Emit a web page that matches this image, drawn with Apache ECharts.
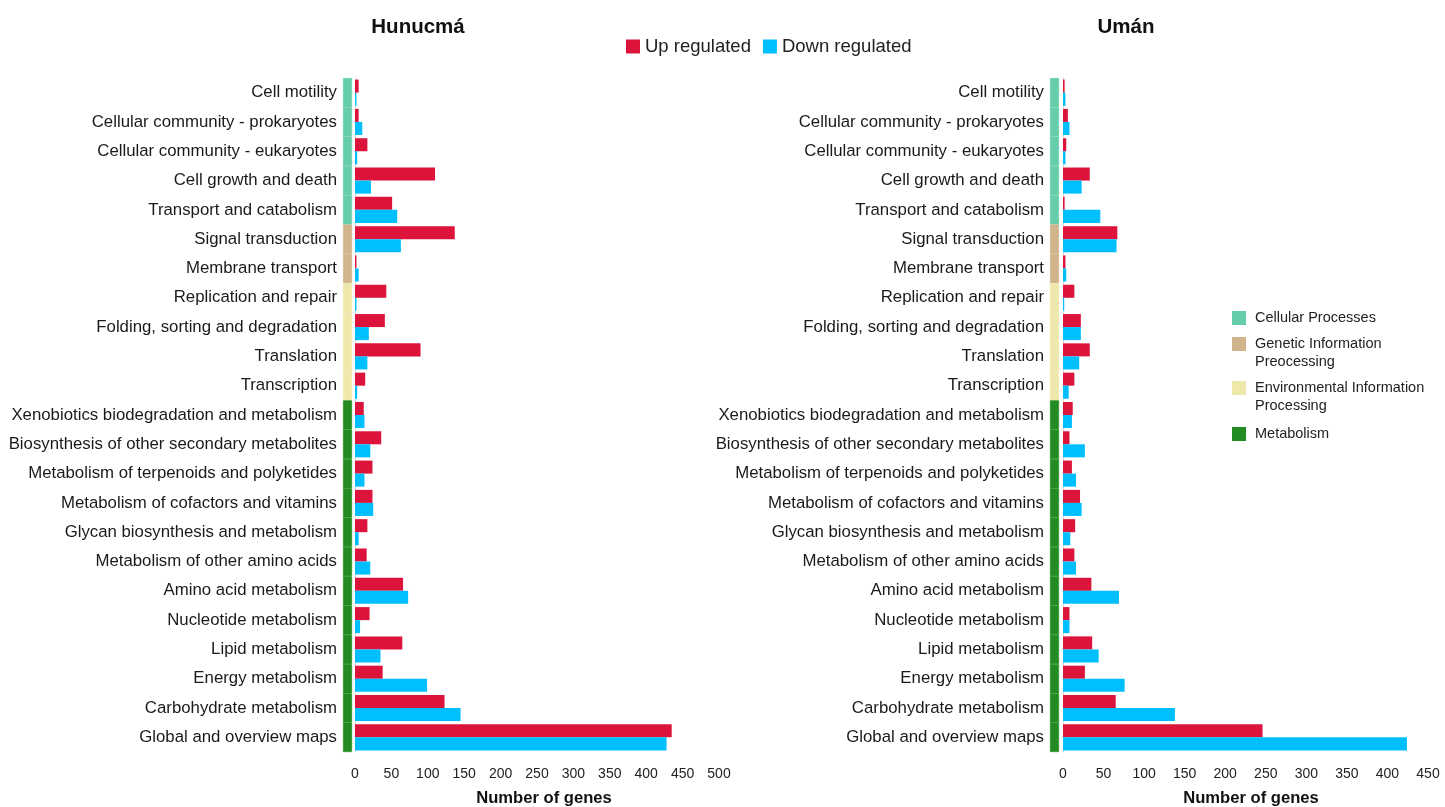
<!DOCTYPE html>
<html>
<head>
<meta charset="utf-8">
<script src="https://cdn.jsdelivr.net/npm/echarts@6/dist/echarts.min.js"></script>
<style>
  html, body { margin: 0; padding: 0; background: #ffffff; }
  #chart { width: 1445px; height: 807px; }
</style>
</head>
<body>
<div id="chart"></div>
<script>
// KEGG pathway categories (top to bottom)
const categories = [
  'Cell motility',
  'Cellular community - prokaryotes',
  'Cellular community - eukaryotes',
  'Cell growth and death',
  'Transport and catabolism',
  'Signal transduction',
  'Membrane transport',
  'Replication and repair',
  'Folding, sorting and degradation',
  'Translation',
  'Transcription',
  'Xenobiotics biodegradation and metabolism',
  'Biosynthesis of other secondary metabolites',
  'Metabolism of terpenoids and polyketides',
  'Metabolism of cofactors and vitamins',
  'Glycan biosynthesis and metabolism',
  'Metabolism of other amino acids',
  'Amino acid metabolism',
  'Nucleotide metabolism',
  'Lipid metabolism',
  'Energy metabolism',
  'Carbohydrate metabolism',
  'Global and overview maps'
];

// Group index of each category (into groupNames / groupColors)
const categoryGroup = [0, 0, 0, 0, 0, 1, 1, 2, 2, 2, 2, 3, 3, 3, 3, 3, 3, 3, 3, 3, 3, 3, 3];
const groupNames = ['Cellular Processes', 'Genetic Information\nPreocessing', 'Environmental Information\nProcessing', 'Metabolism'];
const groupColors = ['#66CDAA', '#D2B48C', '#EEE8AA', '#228B22'];

// Number of genes per category
const hunucmaUp   = [5, 5, 17, 110, 51, 137, 2, 43, 41, 90, 14, 12, 36, 24, 24, 17, 16, 66, 20, 65, 38, 123, 435];
const hunucmaDown = [2, 10, 3, 22, 58, 63, 5, 2, 19, 17, 3, 13, 21, 13, 25, 5, 21, 73, 7, 35, 99, 145, 428];
const umanUp      = [2, 6, 4, 33, 2, 67, 3, 14, 22, 33, 14, 12, 8, 11, 21, 15, 14, 35, 8, 36, 27, 65, 246];
const umanDown    = [3, 8, 3, 23, 46, 66, 4, 1.5, 22, 20, 7, 11, 27, 16, 23, 9, 16, 69, 8, 44, 76, 138, 424];

const panelTitles = ['Hunucmá', 'Umán'];
const seriesNames = ['Up regulated', 'Down regulated'];
const axisName = 'Number of genes';

const FONT = '"Liberation Sans", Arial, Helvetica, sans-serif';
const UP_COLOR = '#DC143C';
const DOWN_COLOR = '#00BFFF';

const chart = echarts.init(document.getElementById('chart'));

const plotTop = 78, plotHeight = 674;
const grids = [
  { left: 343, top: plotTop, width: 9, height: plotHeight },     // left group stripe
  { left: 355, top: plotTop, width: 364, height: plotHeight },   // left bars
  { left: 1050, top: plotTop, width: 9, height: plotHeight },    // right group stripe
  { left: 1063, top: plotTop, width: 365, height: plotHeight }   // right bars
].map(g => Object.assign(g, { outerBoundsMode: 'none', containLabel: false }));

function stripeYAxis(gridIndex) {
  return {
    type: 'category', gridIndex, data: categories, inverse: true,
    axisLine: { show: false }, axisTick: { show: false },
    axisLabel: { show: true, margin: 6, fontSize: 16.8, color: '#1a1a1a', fontFamily: FONT }
  };
}
function barYAxis(gridIndex) {
  return {
    type: 'category', gridIndex, data: categories, inverse: true,
    axisLine: { show: true, lineStyle: { color: '#dcdcdc', width: 1 } },
    axisTick: { show: false }, axisLabel: { show: false }
  };
}
function stripeXAxis(gridIndex) {
  return { type: 'value', gridIndex, min: 0, max: 1, show: false };
}
function barXAxis(gridIndex, max, padLeft) {
  return {
    type: 'value', gridIndex, min: 0, max: max, interval: 50,
    axisLine: { show: false }, axisTick: { show: false }, splitLine: { show: false },
    axisLabel: { margin: 15, fontSize: 14, color: '#222', fontFamily: FONT },
    name: axisName, nameLocation: 'middle', nameGap: 38,
    nameTextStyle: { fontSize: 16.6, fontWeight: 'bold', color: '#111', fontFamily: FONT, padding: [0, 0, 0, padLeft] }
  };
}

function stripeSeries(axisIndex) {
  return {
    type: 'bar', xAxisIndex: axisIndex, yAxisIndex: axisIndex,
    barWidth: '100%', silent: true,
    data: categories.map((c, i) => {
      const col = groupColors[categoryGroup[i]];
      return { value: 1, itemStyle: { color: col, borderColor: col, borderWidth: 0.6 } };
    })
  };
}
function valueSeries(name, axisIndex, values, color) {
  return {
    type: 'bar', name: name, xAxisIndex: axisIndex, yAxisIndex: axisIndex,
    barGap: '0%', barCategoryGap: '11%',
    itemStyle: { color: color },
    data: values
  };
}

// Group colour key drawn at the right
const keyX = 1232;
const keyRows = [318, 344, 388, 434];
const keyGraphics = [];
groupNames.forEach((g, i) => {
  keyGraphics.push({
    type: 'rect', left: keyX, top: keyRows[i] - 7,
    shape: { width: 14, height: 14 }, style: { fill: groupColors[i] }
  });
  keyGraphics.push({
    type: 'text', x: keyX + 23, y: keyRows[i] - 9,
    style: { text: g, fontSize: 14.5, lineHeight: 18, fontFamily: FONT, fill: '#222', verticalAlign: 'top' }
  });
});

chart.setOption({
  backgroundColor: '#ffffff',
  animation: false,
  title: [
    { text: panelTitles[0], left: 413, top: 12, textAlign: 'center',
      textStyle: { fontSize: 20.5, fontWeight: 'bold', color: '#111', fontFamily: FONT } },
    { text: panelTitles[1], left: 1121, top: 12, textAlign: 'center',
      textStyle: { fontSize: 20.5, fontWeight: 'bold', color: '#111', fontFamily: FONT } }
  ],
  legend: {
    data: seriesNames, left: 626, top: 37, padding: 0, itemWidth: 14, itemHeight: 14, itemGap: 12,
    icon: 'rect', textStyle: { fontSize: 18.5, color: '#222', fontFamily: FONT }
  },
  grid: grids,
  xAxis: [stripeXAxis(0), barXAxis(1, 500, 14), stripeXAxis(2), barXAxis(3, 450, 11)],
  yAxis: [stripeYAxis(0), barYAxis(1), stripeYAxis(2), barYAxis(3)],
  series: [
    stripeSeries(0),
    valueSeries(seriesNames[0], 1, hunucmaUp, UP_COLOR),
    valueSeries(seriesNames[1], 1, hunucmaDown, DOWN_COLOR),
    stripeSeries(2),
    valueSeries(seriesNames[0], 3, umanUp, UP_COLOR),
    valueSeries(seriesNames[1], 3, umanDown, DOWN_COLOR)
  ],
  graphic: keyGraphics
});
</script>
</body>
</html>
